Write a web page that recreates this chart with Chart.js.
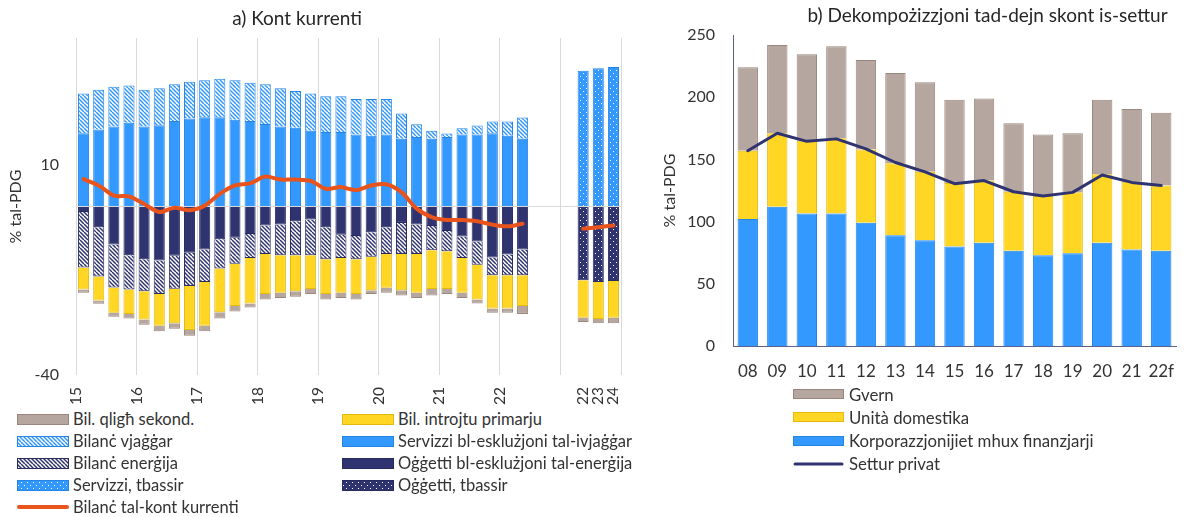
<!DOCTYPE html>
<html>
<head>
<meta charset="utf-8">
<script src="https://cdn.jsdelivr.net/npm/chart.js@4.4.1/dist/chart.umd.min.js"></script>
<style>
  html, body { margin: 0; padding: 0; background: #fff; }
  body { width: 1186px; height: 517px; position: relative; overflow: hidden; font-family: Lato, sans-serif; color: #333; }
  #chartA, #chartB { position: absolute; top: 0; }
  #chartA { left: 0; }
  #chartB { left: 640px; }
  .item { position: absolute; display: flex; align-items: center; white-space: nowrap; height: 22px; }
  .item canvas { display: block; }
</style>
</head>
<body>
<canvas id="chartA" width="640" height="405"></canvas>
<canvas id="chartB" width="546" height="405"></canvas>
<div id="legendA"></div>
<div id="legendB"></div>
<script>
// a) kont kurrenti: kwarti 2015Q1-2022Q2, imbagħad tbassir annwali 22-24
const quarters = ['15Q1','15Q2','15Q3','15Q4','16Q1','16Q2','16Q3','16Q4',
  '17Q1','17Q2','17Q3','17Q4','18Q1','18Q2','18Q3','18Q4','19Q1','19Q2','19Q3','19Q4',
  '20Q1','20Q2','20Q3','20Q4','21Q1','21Q2','21Q3','21Q4','22Q1','22Q2'];
const yearTicks = ['15','16','17','18','19','20','21','22'];
const forecastYears = ['22','23','24'];
const yTicksA = [-40, 10];

const servicesExTravel = [17.4, 18.3, 19.0, 19.9, 19.0, 19.3, 20.3, 20.9, 21.2, 21.2, 20.6, 20.3, 19.6, 19.0, 18.7,
  18.0, 17.7, 17.7, 17.1, 16.8, 17.1, 16.1, 16.5, 16.1, 16.5, 17.1, 17.1, 17.4, 16.8, 16.1];
const travel = [9.4, 9.4, 9.4, 8.8, 8.7, 8.8, 8.7, 8.7, 8.8, 9.1, 9.4, 9.1, 9.4, 9.1, 8.7,
  8.8, 8.5, 8.5, 8.4, 8.7, 8.4, 6.0, 3.0, 1.9, 0.8, 1.5, 2.1, 2.8, 3.4, 5.0];
const goodsExEnergy = [-1.3, -4.9, -9.0, -11.6, -12.5, -12.8, -11.7, -11.0, -10.2, -7.8, -7.4, -6.5, -4.5, -4.3, -3.5,
  -3.1, -4.9, -6.7, -7.0, -6.1, -4.9, -3.9, -4.3, -4.6, -5.8, -7.1, -8.3, -12.1, -11.4, -10.2];
const energy = [-13.2, -11.7, -10.2, -8.1, -7.6, -8.0, -7.8, -7.9, -7.7, -6.9, -6.2, -5.7, -6.8, -7.3, -8.1,
  -8.5, -7.6, -5.5, -5.5, -5.8, -6.4, -7.4, -7.0, -5.8, -4.8, -5.1, -5.5, -4.2, -4.9, -6.1];
const primaryIncome = [-5.2, -5.7, -6.0, -5.8, -6.7, -7.5, -8.2, -10.4, -10.4, -10.4, -10.0, -10.8, -9.5, -8.9, -8.5,
  -8.0, -8.3, -8.3, -8.3, -8.0, -8.0, -8.6, -9.2, -9.2, -9.0, -8.3, -8.3, -7.9, -7.9, -7.3];
const secondaryIncome = [-0.8, -0.8, -1.0, -1.1, -1.3, -1.3, -1.3, -1.4, -1.3, -1.5, -1.3, -1.0, -1.3, -1.2, -1.3,
  -1.2, -1.3, -1.2, -1.3, -0.9, -1.2, -1.2, -1.2, -1.5, -1.2, -1.2, -0.9, -1.0, -1.0, -1.9];
const currentAccount = [6.5, 5.0, 2.6, 2.4, 0.6, -1.3, -0.3, -0.9, 0.2, 3.0, 5.0, 5.5, 7.1, 6.4, 6.4,
  6.1, 4.2, 4.6, 3.9, 5.0, 5.3, 3.4, -0.5, -2.5, -3.2, -3.2, -3.5, -4.3, -4.7, -4.1];

// tbassir
const servicesF = [32.2, 32.8, 33.1];
const goodsF = [-17.5, -17.9, -17.7];
const primaryF = [-8.9, -8.8, -8.7];
const secondaryF = [-1.0, -1.0, -1.3];
const currentAccountF = [-5.3, -4.9, -4.5];

// b) dejn skont is-settur
const years = ['08','09','10','11','12','13','14','15','16','17','18','19','20','21','22f'];
const corporations = [102, 112, 106.5, 106.5, 99, 89, 85, 80, 83, 76.5, 73, 74.5, 83, 77.5, 76.5];
const households = [55, 59, 58.5, 60.5, 59, 58, 55, 51, 50, 47.5, 47.5, 49, 55, 54.5, 52.5];
const government = [67, 71, 69.5, 74, 72, 72.5, 72, 67, 66, 55, 49.5, 47.5, 60, 58.5, 58.5];
const privateSector = [157, 171, 164.5, 166.5, 158.5, 147.5, 140, 130.5, 133, 124, 120.5, 123.5, 137.5, 131.5, 129];

const C = {
  blue: '#3399ff', blueEdge: '#2485e6',
  navy: '#2f3471', navyEdge: '#262a5e',
  yellow: '#ffd624', yellowEdge: '#e6b90c',
  taupe: '#b5a79f', taupeEdge: '#9a867c',
  orange: '#e8541c', text: '#333333', grid: '#d9d9d9', axis: '#5b608c'
};

Chart.defaults.font.family = 'Lato, sans-serif';
Chart.defaults.color = C.text;

function hatch(color) {
  const c = document.createElement('canvas');
  c.width = 8; c.height = 8;
  const g = c.getContext('2d');
  g.fillStyle = '#fff'; g.fillRect(0, 0, 8, 8);
  g.strokeStyle = color; g.lineWidth = 1.5;
  g.beginPath();
  for (let k = -8; k <= 8; k += 4) { g.moveTo(k, 0); g.lineTo(k + 8, 8); }
  g.stroke();
  return g.createPattern(c, 'repeat');
}

function dots(color) {
  const c = document.createElement('canvas');
  c.width = 6; c.height = 6;
  const g = c.getContext('2d');
  g.fillStyle = color; g.fillRect(0, 0, 6, 6);
  g.fillStyle = '#fff';
  g.fillRect(1, 1, 1, 1); g.fillRect(4, 4, 1, 1);
  return g.createPattern(c, 'repeat');
}

const gap = [null, null, null];
const noQ = quarters.map(() => null);
const labelsA = [...quarters, '', '', '', ...forecastYears];
const quarterly = arr => [...arr, ...gap, null, null, null];
const annual = arr => [...noQ, ...gap, ...arr];

// x-axis lines every 4 quarters, labels on years and under forecast bars
const yearPos = yearTicks.map((_, i) => i * 4);
const forecastPos = forecastYears.map((_, i) => quarters.length + gap.length + 0.5 + i);
const nCat = labelsA.length;

// moves the chart title to a given x centre
const titleShift = {
  id: 'titleShift',
  afterLayout(chart, args, opts) {
    const t = chart.titleBlock;
    if (!t || opts.x == null) return;
    const w = t.right - t.left;
    t.left = opts.x - w / 2;
    t.right = opts.x + w / 2;
  }
};

function barDs(label, data, bg, edge, pct) {
  return { type: 'bar', label, data, backgroundColor: bg, borderColor: edge, borderWidth: 1,
    categoryPercentage: 1, barPercentage: pct, stack: 's' };
}

const chartA = new Chart(document.getElementById('chartA'), {
  type: 'bar',
  plugins: [titleShift],
  data: {
    labels: labelsA,
    datasets: [
      { type: 'line', label: 'Bilanċ tal-kont kurrenti',
        data: [...currentAccount, ...gap, ...currentAccountF],
        borderColor: C.orange, backgroundColor: C.orange, borderWidth: 4, pointRadius: 0,
        tension: 0.3, borderCapStyle: 'round', borderJoinStyle: 'round', spanGaps: false, stack: 'ca' },
      barDs('Servizzi bl-esklużjoni tal-ivjaġġar', quarterly(servicesExTravel), C.blue, C.blueEdge, 0.73),
      barDs('Bilanċ vjaġġar', quarterly(travel), hatch(C.blue), C.blueEdge, 0.73),
      barDs('Servizzi, tbassir', annual(servicesF), dots(C.blue), C.blueEdge, 0.73),
      barDs('Oġġetti bl-esklużjoni tal-enerġija', quarterly(goodsExEnergy), C.navy, C.navyEdge, 0.73),
      barDs('Oġġetti, tbassir', annual(goodsF), dots(C.navy), C.navyEdge, 0.73),
      barDs('Bilanċ enerġija', quarterly(energy), hatch(C.navy), C.navyEdge, 0.73),
      barDs('Bil. introjtu primarju', [...primaryIncome, ...gap, ...primaryF], C.yellow, C.yellowEdge, 0.73),
      barDs('Bil. qligħ sekond.', [...secondaryIncome, ...gap, ...secondaryF], C.taupe, C.taupeEdge, 0.73)
    ]
  },
  options: {
    responsive: false, animation: false, events: [],
    layout: { padding: { left: 0, right: 19, top: 0, bottom: 0 } },
    plugins: {
      legend: { display: false },
      tooltip: { enabled: false },
      title: { display: true, text: 'a) Kont kurrenti', color: '#262626',
        font: { size: 19, weight: 'normal' }, padding: { top: 7, bottom: 8.2 } },
      titleShift: { x: 297 }
    },
    scales: {
      x: { type: 'category', display: false, stacked: true, offset: true },
      xl: {
        type: 'linear', position: 'bottom', min: 0, max: nCat, offset: false,
        afterBuildTicks: s => {
          const v = [...yearPos, 32, ...forecastPos, nCat];
          s.ticks = v.sort((a, b) => a - b).map(value => ({ value }));
        },
        afterFit: s => { s.height = 30; s.paddingLeft = 0; s.paddingRight = 0; },
        grid: { drawTicks: false, offset: false,
          color: ctx => (ctx.tick && Number.isInteger(ctx.tick.value) && ctx.tick.value % 4 === 0) ? C.grid : 'rgba(0,0,0,0)' },
        border: { display: false },
        ticks: {
          autoSkip: false, minRotation: 90, maxRotation: 90, padding: 12,
          font: { size: 15.5 },
          callback: v => {
            const i = yearPos.indexOf(v);
            if (i >= 0) return yearTicks[i];
            const j = forecastPos.indexOf(v);
            return j >= 0 ? forecastYears[j] : '';
          }
        }
      },
      y: {
        type: 'linear', stacked: true, min: -40, max: 40,
        afterBuildTicks: s => { s.ticks = [yTicksA[0], 0, yTicksA[1]].map(value => ({ value })); },
        afterFit: s => { s.width = 76; },
        grid: { drawTicks: false, color: ctx => (ctx.tick && ctx.tick.value === 0) ? C.grid : 'rgba(0,0,0,0)' },
        border: { display: false },
        ticks: { padding: 17, font: { size: 16 }, callback: v => (v === 0 ? '' : v) },
        title: { display: true, text: '% tal-PDG', font: { size: 16 }, padding: { top: 6, bottom: 0 } }
      }
    }
  }
});

const chartB = new Chart(document.getElementById('chartB'), {
  type: 'bar',
  plugins: [titleShift],
  data: {
    labels: years,
    datasets: [
      { type: 'line', label: 'Settur privat', data: privateSector, borderColor: C.navy, backgroundColor: C.navy,
        borderWidth: 3, pointRadius: 0, tension: 0, borderCapStyle: 'round', borderJoinStyle: 'round', stack: 'p' },
      barDs('Korporazzjonijiet mhux finanzjarji', corporations, C.blue, C.blueEdge, 0.69),
      barDs('Unità domestika', households, C.yellow, C.yellowEdge, 0.69),
      barDs('Gvern', government, C.taupe, C.taupeEdge, 0.69)
    ]
  },
  options: {
    responsive: false, animation: false, events: [],
    layout: { padding: { left: 0, right: 10, top: 0, bottom: 0 } },
    plugins: {
      legend: { display: false },
      tooltip: { enabled: false },
      title: { display: true, text: 'b) Dekompożizzjoni tad-dejn skont is-settur', color: '#262626',
        font: { size: 19, weight: 'normal' }, padding: { top: 4, bottom: 8.2 } },
      titleShift: { x: 347.5 }
    },
    scales: {
      x: { stacked: true, grid: { display: false }, border: { display: true, color: C.axis, width: 1 },
        afterFit: s => { s.height = 59; },
        ticks: { padding: 7, font: { size: 17 }, autoSkip: false, minRotation: 0, maxRotation: 0 } },
      y: { stacked: true, min: 0, max: 250, grid: { display: false, drawTicks: false },
        border: { display: true, color: C.axis, width: 1 },
        afterFit: s => { s.width = 93; },
        ticks: { stepSize: 50, padding: 18, font: { size: 16 } },
        title: { display: true, text: '% tal-PDG', font: { size: 16 }, padding: { top: 20, bottom: 0 } } }
    }
  }
});

// HTML legend built from the chart datasets
function swatch(ds, w, h, box) {
  const c = document.createElement('canvas');
  c.width = w; c.height = h;
  const g = c.getContext('2d');
  if (ds.type === 'line') {
    g.strokeStyle = ds.borderColor; g.lineWidth = ds.borderWidth; g.lineCap = 'round';
    g.beginPath(); g.moveTo(2, h / 2); g.lineTo(w - 2, h / 2); g.stroke();
  } else {
    const top = Math.round((h - box) / 2);
    g.fillStyle = ds.backgroundColor; g.fillRect(0, top, w, box);
    g.strokeStyle = ds.borderColor; g.lineWidth = 1; g.strokeRect(0.5, top + 0.5, w - 1, box - 1);
  }
  return c;
}

function htmlLegend(chart, el, columns, spec) {
  columns.forEach((col, ci) => {
    col.forEach((label, ri) => {
      const ds = chart.data.datasets.find(d => d.label === label);
      const item = document.createElement('div');
      item.className = 'item';
      item.style.left = spec.x[ci] + 'px';
      item.style.top = (spec.y0 + ri * spec.dy - 11) + 'px';
      item.style.fontSize = spec.size + 'px';
      item.appendChild(swatch(ds, spec.w, 14, spec.box));
      const t = document.createElement('span');
      t.textContent = label;
      t.style.marginLeft = spec.gap + 'px';
      item.appendChild(t);
      el.appendChild(item);
    });
  });
}

htmlLegend(chartA, document.getElementById('legendA'), [
  ['Bil. qligħ sekond.', 'Bilanċ vjaġġar', 'Bilanċ enerġija', 'Servizzi, tbassir', 'Bilanċ tal-kont kurrenti'],
  ['Bil. introjtu primarju', 'Servizzi bl-esklużjoni tal-ivjaġġar', 'Oġġetti bl-esklużjoni tal-enerġija', 'Oġġetti, tbassir']
], { x: [17, 342], y0: 419, dy: 22, w: 52, box: 11, gap: 4, size: 16.5 });

htmlLegend(chartB, document.getElementById('legendB'), [
  ['Gvern', 'Unità domestika', 'Korporazzjonijiet mhux finanzjarji', 'Settur privat']
], { x: [793], y0: 394, dy: 23.3, w: 51, box: 10, gap: 5, size: 16.8 });
</script>
</body>
</html>
